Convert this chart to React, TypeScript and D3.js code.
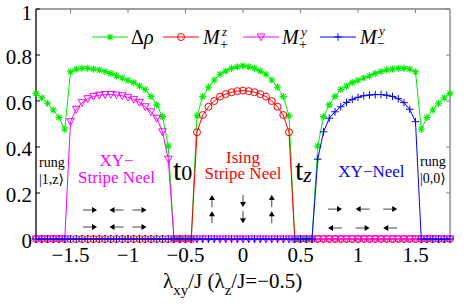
import React from 'react';
import * as d3 from 'd3';

const xGrid = [-1.8,-1.75,-1.7,-1.65,-1.6,-1.55,-1.5,-1.45,-1.4,-1.35,-1.3,-1.25,-1.2,-1.15,-1.1,-1.05,-1,-0.95,-0.9,-0.85,-0.8,-0.75,-0.7,-0.65,-0.6,-0.55,-0.5,-0.45,-0.4,-0.35,-0.3,-0.25,-0.2,-0.15,-0.1,-0.05,0,0.05,0.1,0.15,0.2,0.25,0.3,0.35,0.4,0.45,0.5,0.55,0.6,0.65,0.7,0.75,0.8,0.85,0.9,0.95,1,1.05,1.1,1.15,1.2,1.25,1.3,1.35,1.4,1.45,1.5,1.55,1.6,1.65,1.7,1.75,1.8];

const deltaRho = [
  0.633,0.614,0.590,0.561,0.529,0.477,
  0.727,0.739,0.742,0.742,0.739,0.735,0.728,0.720,0.710,0.700,0.690,0.680,0.665,0.650,0.620,0.583,0.532,0.404,
  0,0,0,0,
  0.536,0.619,0.660,0.691,0.716,0.730,0.742,0.749,0.753,0.749,0.742,0.730,0.716,0.691,0.660,0.619,0.536,
  0,0,0,0,
  0.404,0.532,0.583,0.620,0.650,0.665,0.680,0.690,0.700,0.710,0.720,0.728,0.735,0.739,0.742,0.742,0.739,0.727,
  0.477,0.529,0.561,0.590,0.614,0.633
];

const mzPlus = [
  0,0,0,0,0,0,0,0,0,0,0,0,0,0,0,0,0,0,0,0,0,0,0,0,0,0,0,0,
  0.464,0.539,0.575,0.600,0.619,0.630,0.638,0.643,0.645,0.643,0.638,0.630,0.619,0.600,0.575,0.539,0.464,
  0,0,0,0,0,0,0,0,0,0,0,0,0,0,0,0,0,0,0,0,0,0,0,0,0,0,0,0
];

const myPlus = [
  0,0,0,0,0,0,
  0.510,0.564,0.593,0.610,0.620,0.625,0.628,0.628,0.626,0.623,0.616,0.607,0.594,0.575,0.553,0.525,0.466,0.347,
  0,0,0,0,0,0,0,0,0,0,0,0,0,0,0,0,0,0,0,0,0,0,0,0,0,0,0,0,0,0,0,0,0,0,0,0,0,0,0,0,0,0,0,0,0,0,0,0,0
];

const myMinus = [
  0,0,0,0,0,0,0,0,0,0,0,0,0,0,0,0,0,0,0,0,0,0,0,0,0,0,0,0,0,0,0,0,0,0,0,0,0,0,0,0,0,0,0,0,0,0,0,0,0,
  0.347,0.466,0.525,0.553,0.575,0.594,0.607,0.616,0.623,0.626,0.628,0.628,0.625,0.620,0.610,0.593,0.564,0.510,
  0,0,0,0,0,0
];

const xTicks = [-1.5, -1, -0.5, 0, 0.5, 1, 1.5];
const xTickLabels = ['\u22121.5', '\u22121', '\u22120.5', '0', '0.5', '1', '1.5'];
const yTicks = [0, 0.2, 0.4, 0.6, 0.8, 1];
const yTickLabels = ['0', '0.2', '0.4', '0.6', '0.8', '1'];

const FONT = '"Liberation Serif", "DejaVu Serif", serif';

type MarkerKind = 'star' | 'circle' | 'tri' | 'plus';

function Marker({ kind, cx, cy, color }: { kind: MarkerKind; cx: number; cy: number; color: string }) {
  if (kind === 'circle') return <circle cx={cx} cy={cy} r={3.5} fill="none" stroke={color} strokeWidth={1} />;
  if (kind === 'tri') {
    const p = `${cx - 3.8},${cy - 3} ${cx + 3.8},${cy - 3} ${cx},${cy + 3.8}`;
    return <polygon points={p} fill="none" stroke={color} strokeWidth={1} />;
  }
  if (kind === 'plus') {
    return (
      <path d={`M${cx - 3.8},${cy}H${cx + 3.8}M${cx},${cy - 3.8}V${cy + 3.8}`} stroke={color} strokeWidth={1} fill="none" />
    );
  }
  const r = 3.6, d = 2.6;
  return (
    <path
      d={`M${cx - r},${cy}H${cx + r}M${cx},${cy - r}V${cy + r}M${cx - d},${cy - d}L${cx + d},${cy + d}M${cx - d},${cy + d}L${cx + d},${cy - d}`}
      stroke={color}
      strokeWidth={1.1}
      fill="none"
    />
  );
}

function Arrow({ cx, cy, dir }: { cx: number; cy: number; dir: 'l' | 'r' | 'u' | 'd' }) {
  const L = dir === 'l' || dir === 'r' ? 14 : 12;
  const hl = 5, hw = 3;
  let tail: [number, number], head: [number, number];
  if (dir === 'r') { tail = [cx - L / 2, cy]; head = [cx + L / 2, cy]; }
  else if (dir === 'l') { tail = [cx + L / 2, cy]; head = [cx - L / 2, cy]; }
  else if (dir === 'u') { tail = [cx, cy + L / 2]; head = [cx, cy - L / 2]; }
  else { tail = [cx, cy - L / 2]; head = [cx, cy + L / 2]; }
  const ux = (head[0] - tail[0]) / L, uy = (head[1] - tail[1]) / L;
  const bx = head[0] - ux * hl, by = head[1] - uy * hl;
  const px = -uy, py = ux;
  const tri = `${head[0]},${head[1]} ${bx + px * hw},${by + py * hw} ${bx - px * hw},${by - py * hw}`;
  return (
    <g>
      <line x1={tail[0]} y1={tail[1]} x2={bx} y2={by} stroke="#444" strokeWidth={1} />
      <polygon points={tri} fill="#000" />
    </g>
  );
}

const xyStripeArrows = [
  { x: -1.33, y: 0.126, dir: 'r' }, { x: -1.1, y: 0.126, dir: 'l' }, { x: -0.9, y: 0.126, dir: 'r' },
  { x: -1.33, y: 0.052, dir: 'r' }, { x: -1.1, y: 0.052, dir: 'l' }, { x: -0.9, y: 0.052, dir: 'r' },
];
const isingArrows = [
  { x: -0.27, y: 0.165, dir: 'u' }, { x: 0.0, y: 0.165, dir: 'd' }, { x: 0.25, y: 0.165, dir: 'u' },
  { x: -0.27, y: 0.095, dir: 'u' }, { x: 0.0, y: 0.095, dir: 'd' }, { x: 0.25, y: 0.095, dir: 'u' },
];
const xyNeelArrows = [
  { x: 0.8, y: 0.13, dir: 'r' }, { x: 1.04, y: 0.13, dir: 'l' }, { x: 1.28, y: 0.13, dir: 'r' },
  { x: 0.8, y: 0.048, dir: 'l' }, { x: 1.04, y: 0.048, dir: 'r' }, { x: 1.28, y: 0.048, dir: 'l' },
];

export default function App() {
  const x = d3.scaleLinear().domain([-1.8, 1.8]).range([36, 450]);
  const y = d3.scaleLinear().domain([0, 1]).range([239, 9]);
  const mkLine = (vals: number[]) =>
    d3.line<number>().x((_, i) => x(xGrid[i])).y((v) => y(v))(vals) || '';

  const series: { vals: number[]; color: string; kind: MarkerKind }[] = [
    { vals: deltaRho, color: '#00ee00', kind: 'star' },
    { vals: mzPlus, color: '#ff0000', kind: 'circle' },
    { vals: myPlus, color: '#ff00ff', kind: 'tri' },
    { vals: myMinus, color: '#0000ff', kind: 'plus' },
  ];

  const gray = '#7f7f7f';
  const x0 = x.range()[0], x1 = x.range()[1];
  const yTop = y.range()[1], yBot = y.range()[0];

  const legend = [
    { lx: 92, color: '#00ee00', kind: 'star' as MarkerKind },
    { lx: 163, color: '#ff0000', kind: 'circle' as MarkerKind },
    { lx: 243, color: '#ff00ff', kind: 'tri' as MarkerKind },
    { lx: 320, color: '#0000ff', kind: 'plus' as MarkerKind },
  ];
  const ly = 37;
  const tStyle = { fontFamily: FONT };

  return (
    <svg width={470} height={305} style={{ position: 'absolute', left: 0, top: 0, background: '#fff', fontFamily: FONT }}>
      <rect width={470} height={305} fill="#fff" />
      {/* axes box */}
      <line x1={x0} y1={yTop} x2={x1} y2={yTop} stroke={gray} strokeWidth={1.3} />
      <line x1={x1} y1={yTop} x2={x1} y2={yBot} stroke={gray} strokeWidth={1.3} />
      <line x1={x0} y1={yBot} x2={x1} y2={yBot} stroke={gray} strokeWidth={1} />
      {xTicks.map((t) => (
        <g key={'xt' + t}>
          <line x1={x(t)} y1={yTop} x2={x(t)} y2={yTop + 4} stroke={gray} />
          <line x1={x(t)} y1={yBot} x2={x(t)} y2={yBot - 4} stroke={gray} />
        </g>
      ))}
      {yTicks.map((t) => (
        <g key={'yt' + t}>
          <line x1={x0} y1={y(t)} x2={x0 + 4} y2={y(t)} stroke="#000" />
          <line x1={x1} y1={y(t)} x2={x1 - 4} y2={y(t)} stroke={gray} />
        </g>
      ))}
      <line x1={x0} y1={yTop} x2={x0} y2={yBot} stroke="#000" strokeWidth={1.3} />

      {/* tick labels */}
      {yTicks.map((t, i) => (
        <text key={'yl' + t} style={tStyle} x={32} y={y(t) + (t === 1 ? 4 : 2)} dy="0.35em" textAnchor="end" fontSize={21}>{yTickLabels[i]}</text>
      ))}
      {xTicks.map((t, i) => (
        <text key={'xl' + t} style={tStyle} x={x(t)} y={262} textAnchor="middle" fontSize={21}>{xTickLabels[i]}</text>
      ))}

      {/* x-axis title */}
      <text x={163} y={288} fontSize={21} style={tStyle}>
        <tspan>λ</tspan>
        <tspan fontSize={15} dy={7}>xy</tspan>
        <tspan dy={-7}>/J (λ</tspan>
        <tspan fontSize={15} dy={7}>z</tspan>
        <tspan dy={-7}>/J=−0.5)</tspan>
      </text>

      {/* series */}
      {series.map((s, si) => (
        <g key={'s' + si}>
          <path d={mkLine(s.vals)} fill="none" stroke={s.color} strokeWidth={1} />
          {s.vals.map((v, i) => (
            <Marker key={i} kind={s.kind} cx={x(xGrid[i])} cy={y(v)} color={s.color} />
          ))}
        </g>
      ))}

      {/* legend */}
      {legend.map((l, i) => (
        <g key={'lg' + i}>
          <line x1={l.lx} y1={ly} x2={l.lx + 36} y2={ly} stroke={l.color} strokeWidth={1} />
          <Marker kind={l.kind} cx={l.lx + 18} cy={ly} color={l.color} />
        </g>
      ))}
      <text x={131} y={44} fontSize={20} style={tStyle}>Δ<tspan fontStyle="italic">ρ</tspan></text>
      <text x={203} y={44} fontSize={20} fontStyle="italic" style={tStyle}>M</text>
      <text x={222} y={36} fontSize={13} fontStyle="italic" style={tStyle}>z</text>
      <text x={220} y={49} fontSize={14} style={tStyle}>+</text>
      <text x={282} y={44} fontSize={20} fontStyle="italic" style={tStyle}>M</text>
      <text x={301} y={36} fontSize={13} fontStyle="italic" style={tStyle}>y</text>
      <text x={299} y={49} fontSize={14} style={tStyle}>+</text>
      <text x={360} y={44} fontSize={20} fontStyle="italic" style={tStyle}>M</text>
      <text x={379} y={35} fontSize={13} fontStyle="italic" style={tStyle}>y</text>
      <text x={377} y={48} fontSize={14} style={tStyle}>−</text>

      {/* annotations */}
      <text x={x(-1.774)} y={y(0.313)} fontSize={14} style={tStyle}>rung</text>
      <text x={x(-1.774)} y={y(0.239)} fontSize={14} style={tStyle}>|1,z⟩</text>
      <text x={x(1.539)} y={y(0.317)} fontSize={14} style={tStyle}>rung</text>
      <text x={x(1.539)} y={y(0.243)} fontSize={14} style={tStyle}>|0,0⟩</text>

      <text x={x(-1.1)} y={y(0.317)} fontSize={17} fill="#ff00ff" textAnchor="middle" style={tStyle}>XY−</text>
      <text x={x(-1.1)} y={y(0.243)} fontSize={17} fill="#ff00ff" textAnchor="middle" style={tStyle}>Stripe Neel</text>
      <text x={x(0)} y={y(0.33)} fontSize={17} fill="#ff0000" textAnchor="middle" style={tStyle}>Ising</text>
      <text x={x(0)} y={y(0.261)} fontSize={17} fill="#ff0000" textAnchor="middle" style={tStyle}>Stripe Neel</text>
      <text x={x(1.117)} y={y(0.271)} fontSize={17} fill="#0000ff" textAnchor="middle" style={tStyle}>XY−Neel</text>

      <text x={x(-0.609)} y={y(0.257)} fontSize={30} style={tStyle}>t<tspan fontSize={22}>0</tspan></text>
      <text x={x(0.452)} y={y(0.257)} fontSize={30} style={tStyle}>t<tspan fontSize={22} fontStyle="italic" dy={2}>z</tspan></text>

      {xyStripeArrows.concat(isingArrows, xyNeelArrows).map((a, i) => (
        <Arrow key={'ar' + i} cx={x(a.x)} cy={y(a.y)} dir={a.dir as any} />
      ))}
    </svg>
  );
}
